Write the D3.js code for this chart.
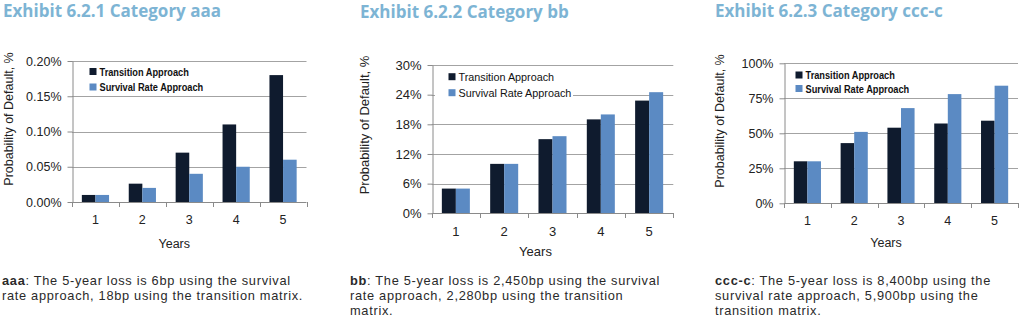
<!DOCTYPE html>
<html>
<head>
<meta charset="utf-8">
<script src="https://cdn.jsdelivr.net/npm/d3@7"></script>
<style>
  html, body { margin: 0; padding: 0; background: #fff; }
  svg { display: block; }
  .axis-text { font-family: "Liberation Sans", Arial, sans-serif; fill: #222; }
  .title { font-family: "Open Sans", "Lato", sans-serif; font-weight: 700; fill: #7db4d4; }
  .caption { font-family: "Liberation Sans", Arial, sans-serif; fill: #2a2a2a; letter-spacing: 0.7px; }
</style>
</head>
<body>
<svg id="chart" width="1024" height="323"></svg>
<script>
// Years on the x axis, shared by all three panels
const years = [1, 2, 3, 4, 5];
const seriesNames = ["Transition Approach", "Survival Rate Approach"];

// Cumulative probability of default, % — category aaa
const aaaTransition = [0.01, 0.026, 0.07, 0.11, 0.18];
const aaaSurvival   = [0.01, 0.02, 0.04, 0.05, 0.06];
const aaaTicks      = [0, 0.05, 0.10, 0.15, 0.20];
const aaaTickLabels = ["0.00%", "0.05%", "0.10%", "0.15%", "0.20%"];

// Category bb
const bbTransition = [5, 10, 15, 19, 22.8];
const bbSurvival   = [5, 10, 15.6, 20, 24.5];
const bbTicks      = [0, 6, 12, 18, 24, 30];
const bbTickLabels = ["0%", "6%", "12%", "18%", "24%", "30%"];

// Category ccc-c
const cccTransition = [30, 43, 54, 57, 59];
const cccSurvival   = [30, 51, 68, 78, 84];
const cccTicks      = [0, 25, 50, 75, 100];
const cccTickLabels = ["0%", "25%", "50%", "75%", "100%"];

const titles = ["Exhibit 6.2.1 Category aaa", "Exhibit 6.2.2 Category bb", "Exhibit 6.2.3 Category ccc-c"];
const captions = [
  ["aaa", [": The 5-year loss is 6bp using the survival", "rate approach, 18bp using the transition matrix."]],
  ["bb", [": The 5-year loss is 2,450bp using the survival", "rate approach, 2,280bp using the transition", "matrix."]],
  ["ccc-c", [": The 5-year loss is 8,400bp using the", "survival rate approach, 5,900bp using the", "transition matrix."]]
];

const colors = ["#0f1b2e", "#5b8ac3"];

const svg = d3.select("#chart");

const panels = [
  { transition: aaaTransition, survival: aaaSurvival, ticks: aaaTicks, tickLabels: aaaTickLabels,
    left: 72, right: 306.5, top: 61, bottom: 202, fs: 12.5,
    titleX: 3, titleY: 17, capX: 2,
    yTitleX: 13, yTitleY: 119, yearsY: 248, labY: 224,
    legend: { x: 89.5, y1: 71.5, y2: 87, bold: true, box: [86, 64, 130, 30] } },
  { transition: bbTransition, survival: bbSurvival, ticks: bbTicks, tickLabels: bbTickLabels,
    left: 431.7, right: 673.3, top: 65, bottom: 213.3, fs: 13,
    titleX: 360, titleY: 17.5, capX: 350,
    yTitleX: 369, yTitleY: 125, yearsY: 256, labY: 235.5,
    legend: { x: 448.5, y1: 76.7, y2: 92.7, bold: false, box: [435, 68, 138, 32] } },
  { transition: cccTransition, survival: cccSurvival, ticks: cccTicks, tickLabels: cccTickLabels,
    left: 784, right: 1018, top: 63.3, bottom: 203.3, fs: 12.5,
    titleX: 715, titleY: 17, capX: 715,
    yTitleX: 724, yTitleY: 121, yearsY: 247, labY: 225,
    legend: { x: 795.5, y1: 75, y2: 88.5, bold: true, box: [792, 67, 130, 28] } }
];

panels.forEach((p, i) => {
  const g = svg.append("g");
  const maxV = p.ticks[p.ticks.length - 1];

  const y = d3.scaleLinear().domain([0, maxV]).range([p.bottom, p.top]);
  const x0 = d3.scaleBand().domain(years).range([p.left, p.right])
    .paddingInner(0.42).paddingOuter(0.21);
  const x1 = d3.scaleBand().domain(seriesNames).range([0, x0.bandwidth()]);

  // horizontal gridlines
  g.append("g").selectAll("line").data(p.ticks.filter(t => t > 0)).join("line")
    .attr("x1", p.left).attr("x2", p.right)
    .attr("y1", d => Math.round(y(d)) + 0.5).attr("y2", d => Math.round(y(d)) + 0.5)
    .attr("stroke", "#a3a3a3").attr("stroke-width", 1);

  // bars
  const rows = years.map((yr, k) => ({ year: yr, values: [p.transition[k], p.survival[k]] }));
  g.append("g").selectAll("g").data(rows).join("g")
    .attr("transform", d => `translate(${x0(d.year)},0)`)
    .selectAll("rect").data(d => d.values.map((v, s) => ({ v, s }))).join("rect")
    .attr("x", d => x1(seriesNames[d.s]))
    .attr("width", x1.bandwidth())
    .attr("y", d => y(d.v))
    .attr("height", d => p.bottom - y(d.v))
    .attr("fill", d => colors[d.s]);

  // y axis
  const yAxis = d3.axisLeft(y).tickValues(p.ticks)
    .tickFormat((d, k) => p.tickLabels[k]).tickSize(5).tickPadding(6).tickSizeOuter(0);
  const ya = g.append("g").attr("transform", `translate(${Math.round(p.left) + 0.5},0)`).call(yAxis);
  ya.select(".domain").attr("stroke", "#8a8a8a");
  ya.selectAll(".tick line").attr("stroke", "#8a8a8a");
  ya.selectAll(".tick text").attr("class", "axis-text").style("font-size", p.fs + "px").attr("fill", "#222");

  // x axis baseline and boundary ticks
  const step = x0.step();
  const xa = g.append("g");
  xa.append("line").attr("x1", p.left).attr("x2", p.right)
    .attr("y1", Math.round(p.bottom) + 0.5).attr("y2", Math.round(p.bottom) + 0.5)
    .attr("stroke", "#8a8a8a");
  xa.selectAll("line.bt").data(d3.range(years.length + 1)).join("line").attr("class", "bt")
    .attr("x1", k => Math.round(p.left + k * step) + 0.5).attr("x2", k => Math.round(p.left + k * step) + 0.5)
    .attr("y1", Math.round(p.bottom)).attr("y2", Math.round(p.bottom) + 5)
    .attr("stroke", "#8a8a8a");
  xa.selectAll("text").data(years).join("text").attr("class", "axis-text")
    .attr("x", d => x0(d) + x0.bandwidth() / 2).attr("y", p.labY)
    .attr("text-anchor", "middle").style("font-size", p.fs + "px").text(d => d);

  // axis titles
  g.append("text").attr("class", "axis-text")
    .attr("transform", `translate(${p.yTitleX},${p.yTitleY}) rotate(-90)`)
    .attr("text-anchor", "middle").style("font-size", p.fs + "px")
    .text("Probability of Default, %");
  g.append("text").attr("class", "axis-text")
    .attr("x", (p.left + p.right) / 2 + (i === 1 ? -17 : -15)).attr("y", p.yearsY)
    .attr("text-anchor", "middle").style("font-size", p.fs + "px").text("Years");

  // legend (bold entries use a horizontally condensed Liberation Sans Bold)
  const L = p.legend;
  g.append("rect").attr("x", L.box[0]).attr("y", L.box[1]).attr("width", L.box[2]).attr("height", L.box[3]).attr("fill", "#fff");
  [L.y1, L.y2].forEach((ly, s) => {
    g.append("rect").attr("x", L.x).attr("y", ly - 3.5).attr("width", 7).attr("height", 7).attr("fill", colors[s]);
    g.append("text")
      .attr("transform", `translate(${L.x + 10},${ly + 4})` + (L.bold ? " scale(0.84,1)" : ""))
      .style("font-family", "'Liberation Sans', Arial, sans-serif")
      .style("font-weight", L.bold ? 700 : 400)
      .style("font-size", (L.bold ? 11 : 10.8) + "px").attr("fill", "#111")
      .text(seriesNames[s]);
  });

  // panel title
  svg.append("text").attr("class", "title").attr("x", p.titleX).attr("y", p.titleY)
    .style("font-size", "17px").text(titles[i]);

  // caption below the panel
  const [lead, lines] = captions[i];
  lines.forEach((ln, k) => {
    const t = svg.append("text").attr("class", "caption").attr("x", p.capX).attr("y", 284.5 + k * 15)
      .style("font-size", "12.8px");
    if (k === 0) t.append("tspan").style("font-weight", 700).text(lead);
    t.append("tspan").text(ln);
  });
});
</script>
</body>
</html>
